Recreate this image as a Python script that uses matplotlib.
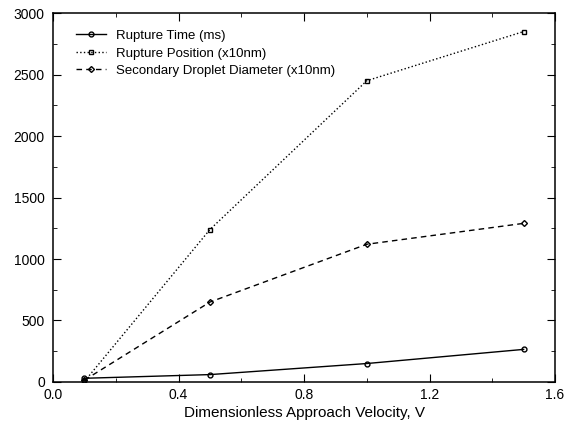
import matplotlib
matplotlib.use("Agg")
import matplotlib.pyplot as plt
from matplotlib.ticker import MultipleLocator, FormatStrFormatter

plt.rcParams['font.family'] = ['Liberation Sans', 'DejaVu Sans']

velocity = [0.1, 0.5, 1.0, 1.5]
rupture_time = [30, 60, 150, 265]
rupture_pos = [5, 1240, 2450, 2850]
droplet_diam = [15, 650, 1120, 1290]

fig = plt.figure(figsize=(5.71, 4.23), dpi=100)
ax = fig.add_axes([0.093, 0.097, 0.879, 0.872])

mk = dict(markersize=3.5, markerfacecolor='none', markeredgecolor='black', markeredgewidth=1.0)
ax.plot(velocity, rupture_time, '-', color='black', lw=1.0, marker='o', label='Rupture Time (ms)', **mk)
ax.plot(velocity, rupture_pos, ':', color='black', lw=1.0, marker='s', label='Rupture Position (x10nm)',
        **dict(mk, markersize=3.2))
ax.plot(velocity, droplet_diam, '--', color='black', lw=1.0, marker='D', label='Secondary Droplet Diameter (x10nm)',
        dashes=(4, 3), **dict(mk, markersize=3))

ax.set_xlim(0, 1.6)
ax.set_ylim(0, 3000)
ax.xaxis.set_major_locator(MultipleLocator(0.4))
ax.xaxis.set_minor_locator(MultipleLocator(0.2))
ax.yaxis.set_major_locator(MultipleLocator(500))
ax.yaxis.set_minor_locator(MultipleLocator(250))
ax.xaxis.set_major_formatter(FormatStrFormatter('%.1f'))
ax.tick_params(which='both', direction='in', top=True, right=True, labelsize=10)
ax.tick_params(which='major', length=6)
ax.tick_params(which='minor', length=3)
ax.tick_params(axis='x', pad=4)
ax.tick_params(axis='y', pad=6)
for s in ax.spines.values():
    s.set_linewidth(1.1)
ax.set_xlabel('Dimensionless Approach Velocity, V', fontsize=11, labelpad=3)

ax.legend(loc='upper left', bbox_to_anchor=(0.04, 0.962), frameon=False, fontsize=9.5,
          handlelength=2.3, handletextpad=0.75, labelspacing=0.4, borderaxespad=0, borderpad=0.2)

fig.savefig('out.png', dpi=100)
